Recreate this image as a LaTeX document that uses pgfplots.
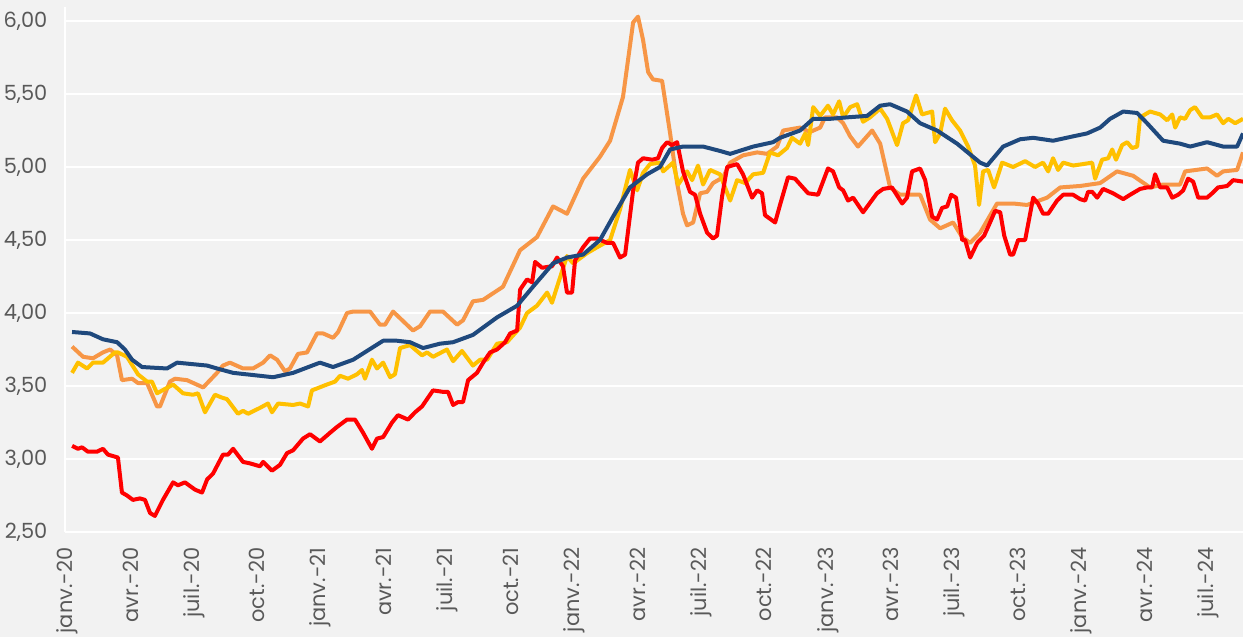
\documentclass[border=0pt]{standalone}
\usepackage{fontspec}
\setmainfont{Poppins}
\usepackage{pgfplots}
\pgfplotsset{compat=1.18}
\definecolor{fond}{HTML}{F2F2F2}
\definecolor{bleu}{HTML}{1F497D}
\definecolor{orangeclair}{HTML}{F79646}
\definecolor{jaune}{HTML}{FFC000}
\definecolor{rouge}{HTML}{FF0000}
\definecolor{gristexte}{HTML}{595959}
\begin{document}
\begin{tikzpicture}
\fill[fond] (-32.5bp,-52.5bp) rectangle (589bp,266bp);
\begin{axis}[
  scale only axis, width=589bp, height=262.5bp,
  xmin=-0.095, xmax=55.65, ymin=2.5, ymax=6.096,
  axis lines*=left,
  axis line style={white, line width=1bp},
  ytick={2.5,3,3.5,4,4.5,5,5.5,6},
  xtick={0,3,...,54},
  xticklabels={janv.-20,avr.-20,juil.-20,oct.-20,janv.-21,avr.-21,juil.-21,oct.-21,janv.-22,avr.-22,juil.-22,oct.-22,janv.-23,avr.-23,juil.-23,oct.-23,janv.-24,avr.-24,juil.-24},
  ymajorgrids, grid style={white, line width=1bp},
  major tick length=0pt,
  tick label style={font=\fontsize{10.5}{12}\selectfont, text=gristexte},
  yticklabel style={/pgf/number format/.cd, fixed, fixed zerofill, precision=2, use comma, assume math mode=true},
  yticklabel shift=4.5bp,
  xticklabel style={rotate=90, anchor=east},
  xticklabel shift=3.5bp,
  no markers, line width=2bp, line join=round,
]
% orange
\addplot[orangeclair] table {
m v
0.24 3.77
0.76 3.70
1.23 3.69
1.70 3.73
2.04 3.75
2.37 3.71
2.60 3.54
3.08 3.55
3.36 3.52
3.79 3.52
4.26 3.36
4.40 3.36
4.87 3.53
5.11 3.55
5.68 3.54
6.29 3.50
6.44 3.49
7.10 3.59
7.38 3.64
7.71 3.66
8.33 3.62
8.80 3.62
9.28 3.66
9.61 3.71
9.94 3.68
10.32 3.60
10.55 3.62
10.93 3.72
11.36 3.73
11.83 3.86
12.12 3.86
12.59 3.83
12.83 3.87
13.25 4.00
13.54 4.01
14.34 4.01
14.81 3.92
15.05 3.92
15.43 4.01
16.37 3.88
16.71 3.91
17.18 4.01
17.79 4.01
18.46 3.92
18.74 3.95
19.21 4.08
19.69 4.09
20.63 4.18
21.44 4.43
22.24 4.52
23.00 4.73
23.66 4.68
24.42 4.92
25.22 5.07
25.70 5.18
26.31 5.48
26.79 5.99
27.02 6.03
27.26 5.87
27.50 5.65
27.73 5.60
28.16 5.59
28.54 5.23
28.87 4.89
29.15 4.68
29.34 4.60
29.63 4.62
29.96 4.82
30.29 4.83
30.57 4.89
31.05 4.93
31.38 5.03
31.99 5.08
32.66 5.10
33.13 5.09
33.60 5.14
33.89 5.25
34.69 5.27
35.16 5.24
35.64 5.27
35.87 5.34
36.44 5.34
36.73 5.30
37.06 5.21
37.43 5.14
38.10 5.25
38.48 5.16
38.95 4.86
39.42 4.81
40.37 4.81
40.84 4.64
41.32 4.58
41.93 4.62
42.36 4.52
42.74 4.48
43.21 4.55
44.01 4.75
44.77 4.75
45.43 4.74
46.38 4.79
47.00 4.86
47.94 4.87
48.89 4.89
49.69 4.97
50.45 4.94
51.25 4.86
51.87 4.88
52.67 4.88
52.91 4.97
53.95 4.99
54.42 4.94
54.71 4.97
55.37 4.98
55.65 5.10
};
% jaune
\addplot[jaune] table {
m v
0.24 3.59
0.52 3.66
0.95 3.62
1.23 3.66
1.70 3.66
2.27 3.73
2.41 3.73
2.84 3.70
3.36 3.58
3.79 3.53
4.02 3.53
4.26 3.45
5.02 3.51
5.49 3.45
5.96 3.44
6.20 3.45
6.53 3.32
7.00 3.44
7.34 3.42
7.57 3.41
8.09 3.31
8.33 3.33
8.57 3.31
9.13 3.35
9.51 3.38
9.70 3.32
9.99 3.38
10.70 3.37
11.03 3.38
11.41 3.36
11.59 3.47
12.30 3.51
12.68 3.53
12.92 3.57
13.30 3.55
13.72 3.58
13.96 3.61
14.10 3.55
14.43 3.68
14.67 3.62
14.96 3.66
15.29 3.56
15.52 3.58
15.76 3.76
16.23 3.78
16.80 3.71
17.04 3.73
17.32 3.70
17.98 3.75
18.27 3.67
18.69 3.74
19.21 3.64
19.55 3.68
19.88 3.68
20.35 3.79
20.82 3.80
21.44 3.90
21.77 4.00
22.24 4.05
22.72 4.14
22.95 4.07
23.19 4.18
23.66 4.39
23.95 4.34
24.61 4.41
25.08 4.45
25.70 4.50
26.17 4.71
26.64 4.98
26.98 4.84
27.26 4.96
27.59 5.02
28.06 5.03
28.21 4.97
28.68 5.03
28.92 4.88
29.34 4.97
29.58 4.91
29.86 5.01
30.10 4.88
30.43 4.98
30.90 4.95
31.38 4.77
31.71 4.91
32.09 4.89
32.47 4.95
32.94 4.96
33.27 5.10
33.65 5.08
34.07 5.13
34.31 5.20
34.69 5.16
34.93 5.23
35.07 5.15
35.31 5.41
35.64 5.35
36.01 5.42
36.25 5.36
36.54 5.45
36.73 5.34
37.06 5.41
37.39 5.43
37.67 5.31
38.00 5.34
38.48 5.40
38.81 5.33
39.28 5.15
39.56 5.30
39.80 5.32
40.18 5.49
40.46 5.36
40.94 5.38
41.08 5.17
41.32 5.23
41.55 5.40
41.88 5.32
42.26 5.25
42.64 5.14
42.97 5.01
43.16 4.74
43.35 4.97
43.59 4.98
43.87 4.86
44.25 5.03
44.77 5.00
45.34 5.04
45.81 5.00
46.19 5.03
46.43 4.97
46.66 5.06
46.90 4.98
47.14 5.03
47.61 5.01
48.08 5.02
48.51 5.03
48.65 4.92
48.98 5.05
49.27 5.06
49.46 5.12
49.64 5.05
49.93 5.15
50.17 5.17
50.40 5.13
50.64 5.14
50.78 5.34
51.25 5.38
51.73 5.36
52.06 5.32
52.30 5.36
52.44 5.27
52.67 5.34
52.91 5.33
53.15 5.39
53.38 5.41
53.72 5.34
54.09 5.34
54.42 5.36
54.71 5.30
54.95 5.33
55.28 5.30
55.65 5.33
};
% rouge
\addplot[rouge] table {
m v
0.24 3.09
0.52 3.07
0.71 3.08
0.99 3.05
1.42 3.05
1.70 3.07
1.94 3.03
2.41 3.01
2.60 2.77
2.84 2.75
3.12 2.72
3.45 2.73
3.69 2.72
3.93 2.63
4.16 2.61
4.54 2.72
5.02 2.84
5.25 2.82
5.58 2.84
6.06 2.79
6.39 2.77
6.63 2.86
6.91 2.90
7.38 3.03
7.62 3.03
7.86 3.07
8.33 2.98
8.66 2.97
9.13 2.95
9.28 2.98
9.70 2.92
10.08 2.96
10.41 3.04
10.70 3.06
11.17 3.14
11.50 3.17
11.97 3.12
12.45 3.18
12.78 3.22
13.25 3.27
13.63 3.27
14.01 3.18
14.43 3.07
14.67 3.14
14.96 3.15
15.38 3.25
15.66 3.30
16.14 3.27
16.47 3.32
16.80 3.36
17.32 3.47
17.79 3.46
18.03 3.46
18.27 3.37
18.50 3.39
18.74 3.39
18.98 3.54
19.40 3.59
19.69 3.66
20.02 3.73
20.35 3.75
20.73 3.80
20.97 3.86
21.30 3.88
21.44 4.16
21.77 4.23
22.01 4.21
22.15 4.35
22.48 4.31
22.95 4.32
23.19 4.38
23.47 4.32
23.66 4.14
23.90 4.14
24.04 4.36
24.42 4.45
24.75 4.51
25.08 4.51
25.56 4.48
25.84 4.48
26.17 4.38
26.41 4.40
26.79 4.84
27.02 5.03
27.26 5.06
27.69 5.05
27.97 5.06
28.16 5.13
28.40 5.17
28.63 5.15
28.87 5.17
29.15 4.97
29.48 4.83
29.72 4.81
29.96 4.68
30.29 4.55
30.57 4.51
30.76 4.53
31.00 4.80
31.24 5.00
31.71 5.02
31.99 4.95
32.42 4.79
32.66 4.84
32.89 4.82
33.03 4.67
33.51 4.62
33.74 4.74
34.12 4.93
34.45 4.92
35.07 4.82
35.54 4.81
36.01 4.99
36.25 4.97
36.54 4.86
36.73 4.84
36.96 4.77
37.20 4.79
37.67 4.69
38.33 4.82
38.62 4.85
39.04 4.86
39.52 4.75
39.75 4.79
39.99 4.97
40.37 4.99
40.61 4.91
40.94 4.66
41.17 4.64
41.41 4.72
41.65 4.73
41.84 4.81
42.07 4.79
42.36 4.50
42.50 4.50
42.74 4.38
43.07 4.48
43.40 4.53
43.68 4.62
43.92 4.70
44.16 4.69
44.35 4.53
44.63 4.40
44.77 4.40
45.01 4.50
45.34 4.50
45.72 4.79
45.95 4.75
46.19 4.68
46.43 4.68
46.85 4.77
47.14 4.81
47.61 4.81
47.94 4.78
48.18 4.77
48.32 4.83
48.51 4.83
48.75 4.79
49.03 4.85
49.50 4.82
49.98 4.78
50.31 4.81
50.78 4.85
51.11 4.86
51.35 4.86
51.49 4.95
51.73 4.86
52.06 4.86
52.30 4.79
52.58 4.81
52.82 4.84
53.05 4.92
53.29 4.90
53.53 4.79
53.95 4.79
54.19 4.82
54.47 4.86
54.90 4.87
55.18 4.91
55.65 4.90
};
% bleu
\addplot[bleu] table {
m v
0.24 3.87
1.09 3.86
1.70 3.82
2.37 3.80
2.74 3.75
3.08 3.68
3.55 3.63
4.73 3.62
5.21 3.66
6.63 3.64
7.10 3.62
7.86 3.59
9.13 3.57
9.75 3.56
10.70 3.59
11.97 3.66
12.59 3.63
13.54 3.68
14.96 3.81
15.62 3.81
16.23 3.80
16.85 3.76
17.65 3.79
18.27 3.80
19.21 3.85
20.35 3.97
21.30 4.05
22.05 4.18
23.00 4.34
23.66 4.38
24.42 4.40
25.22 4.50
25.84 4.66
26.64 4.86
27.45 4.95
28.06 5.00
28.54 5.12
29.15 5.14
30.10 5.14
30.90 5.11
31.38 5.09
32.47 5.14
33.41 5.17
33.74 5.20
34.69 5.25
35.31 5.33
36.11 5.33
36.91 5.34
37.86 5.35
38.48 5.42
38.95 5.43
39.75 5.38
40.37 5.30
41.17 5.25
42.12 5.16
43.21 5.03
43.54 5.01
44.30 5.14
45.10 5.19
45.72 5.20
46.66 5.18
47.61 5.21
48.27 5.23
48.89 5.27
49.36 5.33
49.98 5.38
50.64 5.37
51.11 5.30
51.87 5.18
52.67 5.16
53.15 5.14
53.95 5.17
54.71 5.14
55.37 5.14
55.65 5.23
};
\end{axis}
\pgfresetboundingbox
\path[use as bounding box] (-32.5bp,-52.5bp) rectangle (589bp,266bp);
\end{tikzpicture}
\end{document}
